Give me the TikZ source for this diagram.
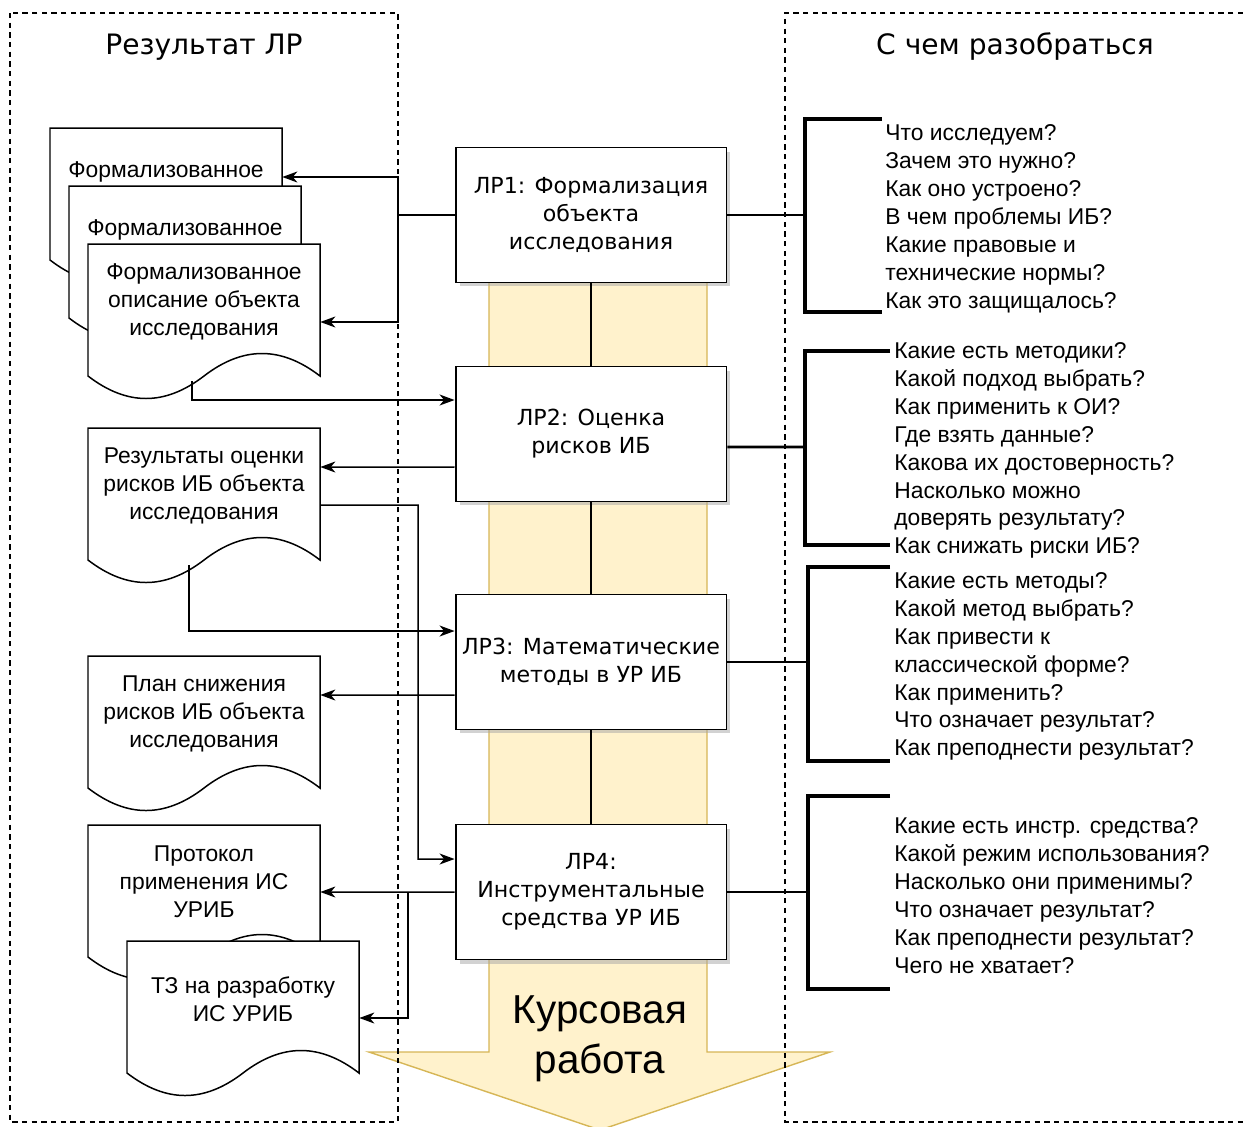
\documentclass[tikz,border=0pt]{standalone}
\usepackage{fontspec}
\setmainfont{Liberation Sans}
\newfontfamily\boxfont{DejaVu Sans}
\usetikzlibrary{arrows.meta,positioning,calc,shadows}
\definecolor{bandfill}{HTML}{FFF2CC}
\definecolor{bandline}{HTML}{D6B656}

% document sheet: name, left x, top y, text, text offset
\newcommand{\docsheet}[5]{%
  \filldraw[docline] (#2,#3) -- ++(232,0) -- ++(0,132)
    .. controls +(-39,-30) and +(39,-30) .. ++(-116,0)
    .. controls +(-39,30) and +(39,30) .. ++(-116,0) -- cycle;
  \node[doctext] (#1) at (#2+116,#3+#5) {#4};}

\begin{document}
\begin{tikzpicture}[x=0.02cm, y=-0.02cm,
    lrbox/.style={draw, line width=1.1pt, fill=white, minimum width=5.42cm, minimum height=2.7cm, align=center, inner sep=1pt,
      font=\boxfont\fontsize{12.6}{15.9}\selectfont,
      drop shadow={shadow xshift=0.08cm, shadow yshift=-0.08cm, fill=black!35}},
    docline/.style={draw, fill=white, line width=0.85pt},
    doctext/.style={minimum width=4.64cm, inner xsep=0pt, inner ysep=0pt, align=center, font=\fontsize{13}{15.9}\selectfont},
    qtext/.style={align=left, anchor=west, inner sep=0pt, font=\fontsize{13}{15.9}\selectfont},
    head/.style={font=\boxfont\fontsize{16}{19}\selectfont},
    kurs/.style={align=center, font=\fontsize{23}{28.5}\selectfont},
    band/.style={fill=bandfill, draw=bandline, line width=0.8pt},
    frame/.style={dash pattern=on 3pt off 2.5pt, line width=0.8pt},
    wire/.style={line width=0.85pt},
    arr/.style={wire, -{Stealth[length=3mm, width=2.2mm, inset=0.9mm]}},
    link/.style={line width=1.5pt},
    brace/.style={line width=2pt}]
  \useasboundingbox (0,0) rectangle (1243,1126);

  % course work arrow behind the lab boxes
  \filldraw[band] (489,270) -- (489,1052) -- (369,1052) -- (600,1130) -- (830,1052) -- (707,1052) -- (707,270) -- cycle;
  \node[kurs] (kr) at (600,1039) {Курсовая\\работа};

  % frames
  \draw[frame] (10,13) rectangle (398,1122);
  \draw[frame] (1243,13) -- (785,13) -- (785,1122) -- (1243,1122);
  \node[head] (hres) at (204,47) {Результат ЛР};
  \node[head] (hask) at (1015,47) {С чем разобраться};

  % lab works
  \node[lrbox] (lr1) at (591,215) {ЛР1: Формализация\\объекта\\исследования};
  \node[lrbox] (lr2) at (591,434) {ЛР2: Оценка\\рисков ИБ};
  \node[lrbox] (lr3) at (591,662) {ЛР3: Математические\\методы в УР ИБ};
  \node[lrbox] (lr4) at (591,892) {ЛР4:\\Инструментальные\\средства УР ИБ};
  \draw[wire] (lr1.south) -- (lr2.north);
  \draw[wire] (lr2.south) -- (lr3.north);
  \draw[wire] (lr3.south) -- (lr4.north);

  % results
  \docsheet{d1a}{50}{128}{Формализованное}{44}
  \docsheet{d1b}{69}{186}{Формализованное}{44}
  \docsheet{obj}{88}{244}{Формализованное\\описание объекта\\исследования}{58}
  \docsheet{res}{88}{428}{Результаты оценки\\рисков ИБ объекта\\исследования}{58}
  \docsheet{plan}{88}{656}{План снижения\\рисков ИБ объекта\\исследования}{58}
  \docsheet{prot}{88}{825}{Протокол\\применения ИС\\УРИБ}{57}
  \docsheet{tz}{127}{941}{ТЗ на разработку\\ИС УРИБ}{58}

  \coordinate (j1) at (398,215);
  \coordinate (objb) at (192,381);
  \coordinate (resb) at (189,565);
  \coordinate (k1) at (418,859);
  \coordinate (k2) at (408,892);
  \draw[wire] (lr1.west) -- (j1);
  \draw[arr] (j1) |- ([yshift=-0.10cm]d1a.east);
  \draw[arr] (j1) |- ([yshift=-0.40cm]obj.east);
  \draw[arr] (objb) |- ([yshift=0.68cm]lr2.west);
  \draw[arr] ([yshift=-0.66cm]lr2.west) -- ([yshift=0.38cm]res.east);
  \draw[arr] ([yshift=-0.38cm]res.east) -| (k1) -- ([yshift=0.66cm]lr4.west);
  \draw[arr] (resb) |- ([yshift=0.62cm]lr3.west);
  \draw[arr] ([yshift=-0.66cm]lr3.west) -- ([yshift=0.38cm]plan.east);
  \draw[arr] (lr4.west) -- ([yshift=-0.20cm]prot.east);
  \draw[arr] (k2) |- ([yshift=-0.38cm]tz.east);

  % questions
  \coordinate (b1) at (805,215);
  \coordinate (b2) at (805,447);
  \coordinate (b3) at (808,662);
  \coordinate (b4) at (808,892);
  \draw[link] (lr1.east) -- (b1);
  \draw[link] ([yshift=-0.26cm]lr2.east) -- (b2);
  \draw[link] (lr3.east) -- (b3);
  \draw[link] (lr4.east) -- (b4);
  \draw[brace] (882,119) -| (805,312) -- (882,312);
  \draw[brace] (890,351) -| (805,545) -- (890,545);
  \draw[brace] (890,567) -| (808,761) -- (890,761);
  \draw[brace] (890,796) -| (808,989) -- (890,989);
  \node[qtext] (q1) at (885,218.5) {Что исследуем?\\Зачем это нужно?\\Как оно устроено?\\В чем проблемы ИБ?\\Какие правовые и\\технические нормы?\\Как это защищалось?};
  \node[qtext] (q2) at (894,450.5) {Какие есть методики?\\Какой подход выбрать?\\Как применить к ОИ?\\Где взять данные?\\Какова их достоверность?\\Насколько можно\\доверять результату?\\Как снижать риски ИБ?};
  \node[qtext] (q3) at (894,666.5) {Какие есть методы?\\Какой метод выбрать?\\Как привести к\\классической форме?\\Как применить?\\Что означает результат?\\Как преподнести результат?};
  \node[qtext] (q4) at (894,895.5) {Какие есть инстр. средства?\\Какой режим использования?\\Насколько они применимы?\\Что означает результат?\\Как преподнести результат?\\Чего не хватает?};
\end{tikzpicture}
\end{document}
